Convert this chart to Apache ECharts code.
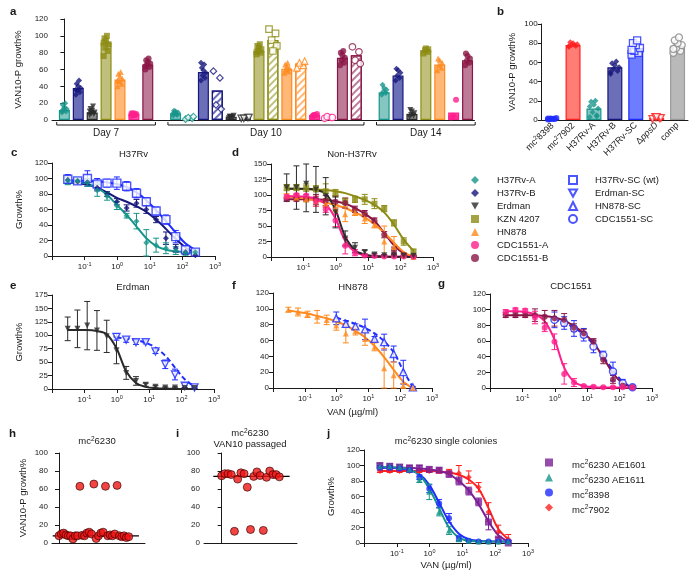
<!DOCTYPE html>
<html><head><meta charset="utf-8">
<script src="https://cdn.jsdelivr.net/npm/echarts@6.0.0/dist/echarts.min.js"></script>
<style>html,body{margin:0;padding:0;background:#fff}#c{width:700px;height:579px}</style>
</head><body><div id="c"></div>
<script>
const FONT = '"Liberation Sans", Arial, Helvetica, sans-serif';
const INK = '#1a1a1a';

// ---------------- panel a ----------------
const aStrains = ['H37Rv-A', 'H37Rv-B', 'Erdman', 'KZN 4207', 'HN878', 'CDC1551-A', 'CDC1551-B'];
const aDayLabels = ['Day 7', 'Day 10', 'Day 14'];
const aDay7 = [12, 38, 9, 92, 48, 7, 66];
const aDay10 = [8, 57, 4, 82, 61, 6, 74];
const aDay10Passaged = [3, 35, 3, 95, 67, 3, 77];
const aDay14 = [33, 53, 7, 83, 66, 9, 71];
const aDay7Reps = [[9, 10, 12, 13, 15, 18, 20, 11], [30, 33, 35, 38, 40, 43, 47, 36], [6, 7, 8, 9, 11, 13, 16, 10],
  [76, 82, 86, 90, 94, 97, 100, 92], [40, 43, 46, 49, 52, 55, 57, 47], [5, 6, 6, 7, 8, 7, 6, 8], [60, 63, 65, 67, 69, 71, 73, 64]];
const aDay10Reps = [[5, 6, 8, 9, 10, 11, 7, 8], [47, 50, 53, 56, 59, 62, 66, 68], [2, 3, 4, 5, 3, 4],
  [78, 80, 82, 84, 86, 88, 90, 81], [56, 58, 60, 62, 64, 66, 68], [4, 5, 6, 7, 6, 5], [65, 68, 71, 74, 77, 80, 82]];
const aDay10PassagedReps = [[1, 2, 3, 4], [58, 50, 18, 13], [2, 3, 2, 3], [108, 103, 95, 88, 82], [62, 65, 68, 70], [2, 3, 4, 3], [87, 81, 71, 67]];
const aDay14Reps = [[30, 32, 34, 36, 38, 42], [47, 50, 53, 56, 59, 61], [4, 5, 6, 8, 10, 12], [79, 81, 83, 84, 85],
  [59, 62, 65, 68, 71, 73], [3, 4, 5, 24], [65, 68, 70, 73, 76, 79]];

// ---------------- panel b ----------------
const bCats = ['mc²8398', 'mc²7902', 'H37Rv-A', 'H37Rv-B', 'H37Rv-SC', 'ΔppsD', 'comp'];
const bMeans = [1, 78, 12, 55, 75, 2, 77];
const bReps = [[0.5, 1, 1.5, 2, 1, 0.8, 1.2, 1.6], [76, 77, 78, 79, 80, 81, 78, 77], [3, 5, 8, 12, 16, 19, 20, 14, 4],
  [48, 51, 53, 55, 57, 59, 61, 50], [68, 70, 72, 75, 78, 80, 83, 73], [1, 2, 3, 2, 3], [70, 72, 75, 78, 80, 83, 86, 74]];

// ---------------- dose response (c-g, j) ----------------
const conc = [0.0305, 0.061, 0.122, 0.244, 0.488, 0.977, 1.95, 3.91, 7.81, 15.6, 31.25, 62.5, 125, 250];

const h37rvA = [97, 97, 95, 85, 77, 65, 52, 45, 17, 14, 10, 7, 4, 5];
const h37rvAErr = [5, 4, 5, 8, 5, 5, 3, 10, 17, 9, 7, 5, 3, 2];
const h37rvAFit = [96, 95, 93, 88, 79, 66, 53, 38, 23, 13, 8, 6, 5, 4];
const h37rvB = [98, 96, 95, 88, 80, 70, 62, 68, 60, 47, 23, 10, 5, 1];
const h37rvBErr = [4, 3, 3, 4, 3, 4, 4, 5, 5, 4, 8, 5, 3, 2];
const h37rvBFit = [95, 94, 92, 88, 82, 75, 70, 64, 57, 47, 35, 22, 11, 4];
const h37rvSC = [99, 97, 100, 93, 94, 94, 90, 81, 70, 58, 47, 25, 8, 5];
const h37rvSCErr = [6, 4, 10, 7, 5, 8, 6, 6, 5, 5, 6, 8, 5, 4];
const h37rvSCFit = [98, 97, 97, 96, 95, 93, 89, 82, 72, 59, 45, 30, 16, 8];

const erdman = [112, 112, 118, 109, 98, 72, 30, 15, 8, 4, 3, 3, 2, 2];
const erdmanErr = [22, 35, 45, 37, 30, 25, 12, 8, 3, 2, 1, 1, 1, 1];
const erdmanFit = [110, 110, 110, 108, 102, 76, 33, 11, 4, 1.5, 0.5, 0.3, 0.2, 0.2];
const erdmanSC = [null, null, null, null, null, 97, 92, 87, 87, 70, 46, 27, 6, 3];
const erdmanSCErr = [null, null, null, null, null, 6, 5, 4, 3, 4, 8, 10, 4, 2];
const erdmanSCFit = [null, null, null, null, null, 96, 94, 91, 86, 77, 62, 40, 18, 5];

const kzn4207 = [112, 112, 112, 110, 106, 103, 90, 93, 93, 86, 78, 55, 25, 8];
const kzn4207Err = [5, 5, 6, 5, 12, 6, 5, 5, 8, 8, 5, 5, 6, 5];
const kzn4207Fit = [110, 110, 109, 109, 108, 106, 103, 98, 92, 84, 72, 52, 28, 10];

const hn878 = [99, 96, 93, 90, 86, 79, 69, 72, 62, 52, 25, 16, 3, 0];
const hn878Err = [3, 5, 4, 8, 6, 6, 12, 5, 8, 5, 25, 17, 3, 1];
const hn878Fit = [98, 96, 94, 91, 88, 84, 79, 72, 64, 53, 39, 23, 8, 0];
const hn878SC = [null, null, null, null, null, 88, 81, 78, 74, 62, 58, 43, 20, 1];
const hn878SCErr = [null, null, null, null, null, 8, 4, 3, 13, 3, 10, 10, 15, 1];
const hn878SCFit = [null, null, null, null, null, 89, 85, 81, 76, 69, 59, 45, 22, 1];

const cdcA = [97, 100, 99, 90, 77, 59, 18, 7, 2.6, 1.7, 1, 1, 1, 0.5];
const cdcAErr = [3, 2, 2, 8, 5, 10, 13, 5, 1, 1, 1, 1, 1, 1];
const cdcAFit = [98, 98, 97, 94, 85, 62, 26, 8, 2.5, 1, 0.6, 0.5, 0.5, 0.5];
const cdcB = [93, 93, 93, 93, 91, 89, 87, 77, 70, 59, 36, 11, 3, 1];
const cdcBErr = [3, 3, 3, 8, 8, 10, 8, 5, 5, 4, 5, 5, 3, 1];
const cdcBFit = [93, 93, 93, 93, 92, 90, 86, 79, 70, 58, 39, 19, 6, 1];
const cdcSC = [null, null, null, null, null, 87, 83, 76, 68, 53, 42, 21, 6, 1];
const cdcSCErr = [null, null, null, null, null, 10, 8, 10, 8, 8, 5, 12, 5, 2];
const cdcSCFit = [null, null, null, null, null, 88, 83, 77, 68, 56, 40, 23, 8, 1];

const jAE1601 = [100, 99, 98, 97, 97, 95, 94, 89, 80, 67, 53, 27, 5, 0];
const jAE1601Err = [3, 3, 3, 3, 3, 3, 3, 4, 5, 5, 5, 10, 8, 3];
const jAE1601Fit = [97, 97, 97, 97, 96, 95, 93, 89, 80, 68, 50, 28, 10, 2];
const jAE1611 = [99, 99, 98, 95, 82, 66, 40, 16, 5, 3, 2, 2, 2, 2];
const jAE1611Err = [3, 3, 3, 3, 4, 10, 5, 5, 3, 1, 1, 1, 1, 1];
const jAE1611Fit = [98, 98, 97, 95, 88, 70, 45, 20, 7, 3, 2, 2, 2, 2];
const j8398 = [97, 97, 96, 94, 85, 70, 51, 32, 6, 3, 2, 2, 2, 2];
const j8398Err = [3, 3, 3, 3, 3, 5, 5, 6, 3, 1, 1, 1, 1, 1];
const j8398Fit = [97, 97, 96, 94, 89, 75, 52, 28, 12, 5, 3, 2, 2, 2];
const j7902 = [93, 93, 93, 93, 93, 93, 93, 92, 90, 85, 72, 40, 15, 5];
const j7902Err = [2, 2, 2, 2, 2, 2, 3, 3, 10, 8, 6, 12, 8, 6];
const j7902Fit = [93, 93, 93, 93, 93, 93, 92, 91, 88, 82, 70, 45, 18, 5];

// ---------------- panels h, i ----------------
const hValues = [8, 10, 11, 9, 8, 8, 4.5, 8, 8, 63, 8.5, 8, 11, 12, 10, 65.5, 5, 8, 11, 12, 63, 8, 9, 8, 10, 64, 8, 7, 8, 6, 7];
const hMedian = 8;
const iValues = [74.6, 77, 77, 76, 13, 71, 78, 77, 62, 15, 74, 79, 75, 14, 73, 80, 76, 76, 73.5];
const iMedian = 74;

const legendLeft = ['H37Rv-A', 'H37Rv-B', 'Erdman', 'KZN 4207', 'HN878', 'CDC1551-A', 'CDC1551-B'];
const legendRight = ['H37Rv-SC (wt)', 'Erdman-SC', 'HN878-SC', 'CDC1551-SC'];
const legendJ = ['mc²6230 AE1601', 'mc²6230 AE1611', 'mc²8398', 'mc²7902'];

// ---------------- styles ----------------
const C = { teal: '#17958b', navy: '#17177c', black: '#2a2a2a', olive: '#8c8c14', orange: '#ff8a1e', pink: '#ff1f8c',
  maroon: '#8a1646', blue: '#1f2cff', red: '#ff2020', grey: '#a8a8a8', purple: '#7b1f96', jteal: '#17958b' };
const LINE = [C.teal, C.navy, C.black, C.olive, C.orange, C.pink, C.maroon];
const FILL = ['#84c6c0', '#6b6fb8', '#8c8c8c', '#c0c07c', '#ffb878', '#ff6cb3', '#bd7b97'];
const INV_TRI = 'path://M0,0L10,0L5,9Z';
const SYM = ['diamond', 'diamond', INV_TRI, 'rect', 'triangle', 'circle', 'circle'];

const chart = echarts.init(document.getElementById('c'), null, { renderer: 'canvas', width: 700, height: 579 });

const axisBase = () => ({
  axisLine: { show: true, lineStyle: { color: INK, width: 1 } },
  axisTick: { show: true, length: 4, lineStyle: { color: INK, width: 1 } },
  splitLine: { show: false },
  axisLabel: { color: INK, fontSize: 8, fontFamily: FONT, margin: 4 },
  nameTextStyle: { color: INK, fontSize: 9.5, fontFamily: FONT }
});
function yAxisVal(gi, min, max, interval, name, gap, extra) {
  return Object.assign(axisBase(), { type: 'value', gridIndex: gi, min, max, interval, name: name || '',
    nameLocation: 'middle', nameGap: gap || 25, nameRotate: 90 }, extra || {});
}
const supRich = {
  b: { fontSize: 8, fontFamily: FONT, color: INK, verticalAlign: 'bottom' },
  s: { fontSize: 5.5, fontFamily: FONT, color: INK, verticalAlign: 'bottom', padding: [0, 0, 4, 0] }
};
function xAxisLog(gi, name, gap) {
  const ax = axisBase();
  return Object.assign(ax, { type: 'log', logBase: 10, gridIndex: gi, min: 0.01, max: 1000, splitNumber: 5,
    minorTick: { show: false }, minorSplitLine: { show: false },
    name: name || '', nameLocation: 'middle', nameGap: gap || 18,
    axisLabel: { margin: 5, formatter: v => { const e = Math.round(Math.log10(v)); if (e === -2) return ''; return '{b|10}{s|' + (e < 0 ? '-' : '') + Math.abs(e) + '}'; }, rich: supRich } });
}

// ---------------- grids ----------------
const grids = [
  { left: 52, top: 19, width: 422.5, height: 101 },     // a 0
  { left: 541.7, top: 24, width: 146.3, height: 96 },   // b 1
  { left: 52, top: 163, width: 163, height: 93 },       // c 2
  { left: 271, top: 164, width: 162, height: 93 },      // d 3
  { left: 52, top: 295, width: 162, height: 94 },       // e 4
  { left: 273, top: 293, width: 159, height: 95 },      // f 5
  { left: 490, top: 294, width: 162, height: 94 },      // g 6
  { left: 52, top: 453, width: 93, height: 90 },        // h 7
  { left: 204, top: 453, width: 93, height: 90 },       // i 8
  { left: 364, top: 450, width: 164, height: 93 }       // j 9
].map(g => Object.assign({ outerBoundsMode: 'none', containLabel: false }, g));

const xAxes = [], yAxes = [], series = [];

// ---- panel a (slot index on a value axis) ----
const aSlots = [];
aStrains.forEach((s, k) => aSlots.push({ k, mean: aDay7[k], reps: aDay7Reps[k], p: false }));
aSlots.push(null);
aStrains.forEach((s, k) => {
  aSlots.push({ k, mean: aDay10[k], reps: aDay10Reps[k], p: false });
  aSlots.push({ k, mean: aDay10Passaged[k], reps: aDay10PassagedReps[k], p: true });
});
aSlots.push(null);
aStrains.forEach((s, k) => aSlots.push({ k, mean: aDay14[k], reps: aDay14Reps[k], p: false }));

xAxes.push(Object.assign(axisBase(), { type: 'value', gridIndex: 0, min: -0.89, max: 29.5,
  axisTick: { show: false }, axisLabel: { show: false } }));
yAxes.push(yAxisVal(0, 0, 120, 20, 'VAN10-P growth%', 26));
const jit = [-3, 2, -1, 3, 0, -2, 1, -3, 2];
const aBars = [];
aSlots.forEach((sl, i) => {
  if (!sl) return;
  aBars.push({ value: [i, sl.mean], itemStyle: sl.p ?
    { color: '#fff', borderColor: LINE[sl.k], borderWidth: 1.2,
      decal: { symbol: 'rect', color: FILL[sl.k], dashArrayX: [1, 0], dashArrayY: [2, 3], rotation: -Math.PI / 4 } } :
    { color: FILL[sl.k], borderColor: LINE[sl.k], borderWidth: 1.2 } });
});
series.push({ type: 'bar', xAxisIndex: 0, yAxisIndex: 0, barWidth: 11, z: 2, silent: true, data: aBars });
const aPts = [];
aSlots.forEach((sl, i) => {
  if (!sl) return;
  sl.reps.forEach((v, j) => aPts.push({ value: [i, v], symbol: SYM[sl.k], symbolSize: sl.p ? 6.5 : 6,
    symbolOffset: [jit[j % jit.length] * (sl.p ? 1.3 : 0.8), 0],
    itemStyle: sl.p ? { color: '#fff', borderColor: LINE[sl.k], borderWidth: 1.2 } : { color: LINE[sl.k] } }));
});
series.push({ type: 'scatter', xAxisIndex: 0, yAxisIndex: 0, data: aPts, z: 3, silent: true });

// ---- panel b ----
const bStyles = [
  { fill: '#3f4dff', line: C.blue, sym: 'circle', hollow: false, pc: C.blue },
  { fill: '#ff7d74', line: C.red, sym: 'diamond', hollow: false, pc: C.red },
  { fill: '#84c6c0', line: C.teal, sym: 'diamond', hollow: false, pc: C.teal },
  { fill: '#6b6fb8', line: C.navy, sym: 'diamond', hollow: false, pc: C.navy },
  { fill: '#6e7cff', line: C.blue, sym: 'rect', hollow: true, pc: C.blue },
  { fill: '#ffffff', line: C.red, sym: INV_TRI, hollow: true, pc: C.red },
  { fill: '#b9b9b9', line: '#9a9a9a', sym: 'circle', hollow: true, pc: '#8a8a8a' }
];
const bLabelRich = ['{n|mc}{s|2}{n|8398}', '{n|mc}{s|2}{n|7902}', '{n|H37Rv-A}', '{n|H37Rv-B}', '{n|H37Rv-SC}', '{n|Δ}{i|ppsD}', '{n|comp}'];
xAxes.push(Object.assign(axisBase(), { type: 'category', gridIndex: 1, data: bCats, axisTick: { show: false },
  axisLabel: { rotate: 45, interval: 0, margin: 4, formatter: (v, i) => bLabelRich[i],
    rich: { n: { fontSize: 9, fontFamily: FONT, color: INK, verticalAlign: 'bottom' },
      s: { fontSize: 6, fontFamily: FONT, color: INK, verticalAlign: 'bottom', padding: [0, 0, 4, 0] },
      i: { fontSize: 9, fontFamily: FONT, color: INK, fontStyle: 'italic', verticalAlign: 'bottom' } } } }));
yAxes.push(yAxisVal(1, 0, 100, 20, 'VAN10-P growth%', 24));
series.push({ type: 'bar', xAxisIndex: 1, yAxisIndex: 1, barWidth: 15, z: 2, silent: true,
  data: bMeans.map((m, i) => ({ value: m, itemStyle: { color: bStyles[i].fill, borderColor: bStyles[i].line, borderWidth: 1.2 } })) });
const bPts = [];
bReps.forEach((reps, i) => reps.forEach((v, j) => bPts.push({ value: [i, v], symbol: bStyles[i].sym,
  symbolSize: bStyles[i].hollow ? 7 : 6, symbolOffset: [jit[j % jit.length] * 1.4, 0],
  itemStyle: bStyles[i].hollow ? { color: '#fff', borderColor: bStyles[i].pc, borderWidth: 1.3 } : { color: bStyles[i].pc } })));
series.push({ type: 'scatter', xAxisIndex: 1, yAxisIndex: 1, data: bPts, z: 3, silent: true });

// ---- dose-response helpers ----
function errRender(col, ymax) {
  return function (params, api) {
    const x = api.value(0), y = api.value(1), e = api.value(2);
    const top = api.coord([x, Math.min(y + e, ymax)]);
    const bot = api.coord([x, Math.max(y - e, 0)]);
    const w = 3, st = { stroke: col, lineWidth: 1 };
    return { type: 'group', children: [
      { type: 'line', shape: { x1: top[0], y1: top[1], x2: bot[0], y2: bot[1] }, style: st },
      { type: 'line', shape: { x1: top[0] - w, y1: top[1], x2: top[0] + w, y2: top[1] }, style: st },
      { type: 'line', shape: { x1: bot[0] - w, y1: bot[1], x2: bot[0] + w, y2: bot[1] }, style: st }
    ] };
  };
}
function dose(gi, name, vals, errs, fit, col, sym, opt) {
  opt = opt || {};
  const pts = [], eb = [], fl = [];
  conc.forEach((c, i) => {
    if (vals[i] != null) { pts.push([c, vals[i]]); eb.push([c, vals[i], errs[i]]); }
    if (fit[i] != null) fl.push([c, fit[i]]);
  });
  series.push({ type: 'line', xAxisIndex: gi, yAxisIndex: gi, data: fl, smooth: 0.35, showSymbol: false, symbol: 'none',
    lineStyle: { color: col, width: 2, type: opt.dashed ? [5, 3] : 'solid' }, z: 2, silent: true });
  series.push({ type: 'custom', xAxisIndex: gi, yAxisIndex: gi, data: eb, dimensions: ['x', 'y', 'e'], encode: { x: 0, y: 1 },
    renderItem: errRender(col, opt.ymax || 120), z: 3, silent: true });
  series.push({ type: 'scatter', name, xAxisIndex: gi, yAxisIndex: gi, data: pts, symbol: sym, symbolSize: opt.size || 6,
    itemStyle: opt.hollow ? { color: '#fff', borderColor: col, borderWidth: 1.4 } : { color: col }, z: 4 });
}

// ---- c ----
xAxes.push(xAxisLog(2)); yAxes.push(yAxisVal(2, 0, 120, 20, 'Growth%', 28));
dose(2, 'H37Rv-SC (wt)', h37rvSC, h37rvSCErr, h37rvSCFit, C.blue, 'rect', { hollow: true, size: 8 });
dose(2, 'H37Rv-B', h37rvB, h37rvBErr, h37rvBFit, C.navy, 'diamond');
dose(2, 'H37Rv-A', h37rvA, h37rvAErr, h37rvAFit, C.teal, 'diamond');
// ---- d ----
xAxes.push(xAxisLog(3)); yAxes.push(yAxisVal(3, 0, 150, 25));
dose(3, 'KZN 4207', kzn4207, kzn4207Err, kzn4207Fit, C.olive, 'rect', { ymax: 150 });
dose(3, 'CDC1551-B', cdcB, cdcBErr, cdcBFit, C.maroon, 'circle', { ymax: 150 });
dose(3, 'HN878', hn878, hn878Err, hn878Fit, C.orange, 'triangle', { ymax: 150 });
dose(3, 'CDC1551-A', cdcA, cdcAErr, cdcAFit, C.pink, 'circle', { ymax: 150 });
dose(3, 'Erdman', erdman, erdmanErr, erdmanFit, C.black, INV_TRI, { ymax: 150 });
// ---- e ----
xAxes.push(xAxisLog(4)); yAxes.push(yAxisVal(4, 0, 175, 25, 'Growth%', 28));
dose(4, 'Erdman-SC', erdmanSC, erdmanSCErr, erdmanSCFit, C.blue, INV_TRI, { hollow: true, dashed: true, size: 7, ymax: 175 });
dose(4, 'Erdman', erdman, erdmanErr, erdmanFit, C.black, INV_TRI, { ymax: 175 });
// ---- f ----
xAxes.push(xAxisLog(5, 'VAN (µg/ml)', 19)); yAxes.push(yAxisVal(5, 0, 120, 20));
dose(5, 'HN878-SC', hn878SC, hn878SCErr, hn878SCFit, C.blue, 'triangle', { hollow: true, dashed: true, size: 7 });
dose(5, 'HN878', hn878, hn878Err, hn878Fit, C.orange, 'triangle');
// ---- g ----
xAxes.push(xAxisLog(6)); yAxes.push(yAxisVal(6, 0, 120, 20));
dose(6, 'CDC1551-SC', cdcSC, cdcSCErr, cdcSCFit, C.blue, 'circle', { hollow: true, dashed: true, size: 7 });
dose(6, 'CDC1551-B', cdcB, cdcBErr, cdcBFit, C.maroon, 'circle');
dose(6, 'CDC1551-A', cdcA, cdcAErr, cdcAFit, C.pink, 'circle');

// ---- h ----
xAxes.push(Object.assign(axisBase(), { type: 'value', gridIndex: 7, min: -3, max: 37, axisTick: { show: false }, axisLabel: { show: false } }));
yAxes.push(yAxisVal(7, 0, 100, 20, 'VAN10-P growth%', 24));
series.push({ type: 'line', xAxisIndex: 7, yAxisIndex: 7, data: [[-2.7, hMedian], [34.4, hMedian]], symbol: 'none', lineStyle: { color: '#000', width: 1.2 }, z: 2, silent: true });
series.push({ type: 'scatter', xAxisIndex: 7, yAxisIndex: 7, data: hValues.map((v, i) => [i, v]), symbolSize: 8,
  itemStyle: { color: '#f01515', borderColor: '#2a0000', borderWidth: 0.8 }, z: 3, silent: true });
// ---- i ----
xAxes.push(Object.assign(axisBase(), { type: 'value', gridIndex: 8, min: -5.5, max: 23.5, axisTick: { show: false }, axisLabel: { show: false } }));
yAxes.push(yAxisVal(8, 0, 100, 20));
series.push({ type: 'line', xAxisIndex: 8, yAxisIndex: 8, data: [[-2.6, iMedian], [21.2, iMedian]], symbol: 'none', lineStyle: { color: '#000', width: 1.2 }, z: 2, silent: true });
series.push({ type: 'scatter', xAxisIndex: 8, yAxisIndex: 8, data: iValues.map((v, i) => [i, v]), symbolSize: 8,
  itemStyle: { color: '#f01515', borderColor: '#2a0000', borderWidth: 0.8 }, z: 3, silent: true });
// ---- j ----
xAxes.push(xAxisLog(9, 'VAN (µg/ml)', 17)); yAxes.push(yAxisVal(9, 0, 120, 20, 'Growth%', 28));
dose(9, 'mc²7902', j7902, j7902Err, j7902Fit, C.red, 'diamond');
dose(9, 'mc²6230 AE1601', jAE1601, jAE1601Err, jAE1601Fit, C.purple, 'rect', { size: 7 });
dose(9, 'mc²8398', j8398, j8398Err, j8398Fit, C.blue, 'circle');
dose(9, 'mc²6230 AE1611', jAE1611, jAE1611Err, jAE1611Fit, C.jteal, 'triangle');

// ---------------- legends ----------------
const legText = { color: INK, fontSize: 9.5, fontFamily: FONT, lineHeight: 13, padding: [0, 0, 0, 13] };
const mcFormatter = name => { const m = name.match(/^mc²(.*)$/); return m ? '{n|mc}{s|2}{n|' + m[1] + '}' : name; };
const legends = [
  { data: legendLeft, orient: 'vertical', left: 466, top: 168.5, itemWidth: 8, itemHeight: 8, itemGap: 0, selectedMode: false, textStyle: legText },
  { data: legendRight, orient: 'vertical', left: 563, top: 168.5, itemWidth: 8, itemHeight: 8, itemGap: 0, selectedMode: false, textStyle: legText },
  { data: legendJ, orient: 'vertical', left: 540, top: 450, itemWidth: 8, itemHeight: 8, itemGap: 0, selectedMode: false,
    formatter: mcFormatter,
    textStyle: Object.assign({}, legText, { lineHeight: 15, padding: [0, 0, 0, 14],
      rich: { n: { fontSize: 9.5, fontFamily: FONT, color: INK, verticalAlign: 'bottom' },
        s: { fontSize: 6.5, fontFamily: FONT, color: INK, verticalAlign: 'bottom', padding: [0, 0, 4, 0] } } }) }
];

// ---------------- annotations ----------------
const graphics = [];
function txt(text, x, y, size, bold, rich) {
  graphics.push({ type: 'text', silent: true, z: 10, style: { text, x, y, fill: INK, fontSize: size, fontFamily: FONT,
    fontWeight: bold ? 'bold' : 'normal', textAlign: bold ? 'left' : 'center', textVerticalAlign: 'middle', rich: rich } });
}
const titleRich = { n: { fontSize: 9.5, fontFamily: FONT, fill: INK, verticalAlign: 'bottom' },
  s: { fontSize: 6.5, fontFamily: FONT, fill: INK, verticalAlign: 'bottom', padding: [0, 0, 4, 0] } };
[['a', 10, 12], ['b', 497, 12], ['c', 11, 153], ['d', 232, 153], ['e', 10, 286], ['f', 232, 286], ['g', 438, 284],
 ['h', 9, 434], ['i', 176, 434], ['j', 327, 434]].forEach(p => txt(p[0], p[1], p[2], 11.5, true));
txt('H37Rv', 133.5, 154.5, 9.5); txt('Non-H37Rv', 352, 154.5, 9.5); txt('Erdman', 133, 287.5, 9.5);
txt('HN878', 353, 287.5, 9.5); txt('CDC1551', 571, 286.5, 9.5);
txt('{n|mc}{s|2}{n|6230}', 97, 441, 9.5, false, titleRich);
txt('{n|mc}{s|2}{n|6230}', 250, 433, 9.5, false, titleRich);
txt('VAN10 passaged', 250, 444.5, 9.5);
txt('{n|mc}{s|2}{n|6230 single colonies}', 446, 441, 9.5, false, titleRich);

const option = {
  animation: false, backgroundColor: '#fff',
  textStyle: { fontFamily: FONT },
  grid: grids, xAxis: xAxes, yAxis: yAxes, series, legend: legends, graphic: graphics
};
chart.setOption(option);

// brackets for the day groups in panel a, placed through the slot scale
const bx = i => chart.convertToPixel({ xAxisIndex: 0 }, i);
const by = chart.convertToPixel({ yAxisIndex: 0 }, 0) + 5;
const slotW = bx(1) - bx(0);
const groups = [[0, 6], [8, 21], [23, 29]];
const extra = [];
groups.forEach((g, k) => {
  const x0 = bx(g[0]) - 0.55 * slotW, x1 = bx(g[1]) + 0.55 * slotW;
  extra.push({ type: 'polyline', silent: true, shape: { points: [[x0, by - 3], [x0, by], [x1, by], [x1, by - 3]] },
    style: { stroke: INK, lineWidth: 1, fill: null } });
  extra.push({ type: 'text', silent: true, style: { text: aDayLabels[k], x: (x0 + x1) / 2, y: by + 8, fill: INK,
    fontSize: 10, fontFamily: FONT, textAlign: 'center', textVerticalAlign: 'middle' } });
});
chart.setOption({ graphic: graphics.concat(extra) });
</script></body></html>
